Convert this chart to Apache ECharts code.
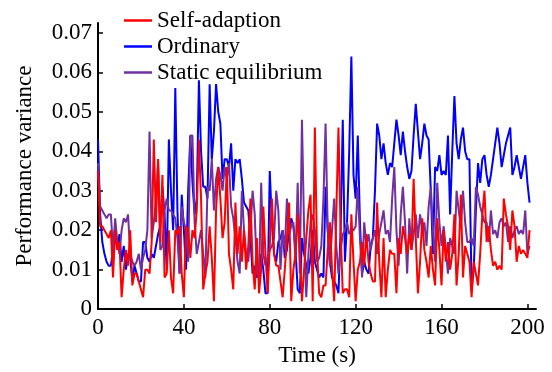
<!DOCTYPE html>
<html>
<head>
<meta charset="utf-8">
<script src="https://cdn.jsdelivr.net/npm/echarts@6/dist/echarts.min.js"></script>
<style>
  html, body { margin: 0; padding: 0; background: #fff; }
  #main { width: 552px; height: 372px; }
</style>
</head>
<body>
<div id="main"></div>
<script>
// time axis, one sample per second
const time = []
for (let i = 0; i <= 201; i++) time.push(i)

// values in units of 0.001
const selfAdaption = [
  35, 21, 21, 20, 19, 18, 20, 8, 20, 15,
  17, 3, 10, 15, 11, 20, 6, 9, 9, 7,
  5, 3, 10, 10, 9, 17, 43, 22, 38, 17,
  34, 8, 9, 20, 8, 4, 20, 19, 21, 9,
  3, 21, 20, 13, 20, 18, 25, 43, 28, 5,
  9, 12, 21, 13, 2, 25, 36, 28, 18, 22,
  36, 14, 10, 5, 27, 14, 21, 12, 20, 10,
  16, 28, 12, 5, 18, 4, 10, 26, 14, 4,
  16, 28, 14, 11, 11, 7, 3, 10, 18, 27,
  2, 10, 14, 24, 15, 2, 10, 18, 25, 29,
  2, 46, 15, 4, 3, 6, 6, 15, 22, 10,
  2, 25, 46, 20, 4, 5, 5, 3, 24, 12,
  2, 10, 12, 17, 11, 19, 12, 9, 7, 7,
  27, 12, 3, 18, 3, 10, 15, 14, 14, 4,
  18, 14, 21, 18, 14, 19, 15, 33, 18, 4,
  12, 23, 15, 12, 8, 16, 10, 6, 23, 15,
  6, 20, 12, 17, 10, 14, 24, 6, 14, 29,
  8, 16, 14, 12, 3, 12, 9, 6, 14, 24,
  30, 17, 21, 15, 11, 12, 10, 11, 10, 28,
  24, 21, 15, 25, 21, 12, 16, 14, 15, 14,
  13, 20
]
const ordinary = [
  43, 24, 17, 14, 12, 11, 11, 15, 21, 15,
  19, 12, 16, 10, 14, 13, 7, 11, 9, 7,
  7, 17, 17, 13, 12, 14, 13, 16, 19, 21,
  31, 24, 10, 43, 30, 20, 56, 25, 9, 29,
  20, 10, 30, 44, 32, 24, 28, 58, 40, 31,
  31, 28, 57, 38, 45, 57, 50, 47, 33, 38,
  38, 36, 42, 30, 38, 37, 38, 33, 27, 26,
  25, 18, 9, 11, 8, 9, 14, 10, 4, 4,
  35, 22, 14, 12, 17, 18, 20, 13, 15, 20,
  23, 21, 15, 5, 4, 18, 14, 11, 9, 13,
  20, 12, 10, 8, 9, 8, 31, 20, 12, 8,
  7, 6, 4, 20, 48, 12, 22, 40, 64, 34,
  28, 44, 22, 9, 12, 10, 9, 16, 18, 30,
  47, 44, 38, 42, 37, 34, 37, 36, 42, 48,
  44, 39, 45, 40, 36, 33, 35, 44, 52, 45,
  38, 42, 47, 44, 43, 30, 14, 36, 35, 39,
  34, 35, 34, 44, 24, 40, 54, 42, 38, 43,
  46, 40, 38, 38, 5, 10, 25, 37, 32, 38,
  39, 34, 31, 34, 38, 42, 46, 42, 36, 39,
  42, 44, 46, 34, 36, 39, 36, 33, 36, 39,
  32, 27
]
const staticEquilibrium = [
  37, 26, 25, 24, 23, 24, 24, 15, 23, 17,
  14, 20, 23, 22, 24, 14, 12, 11, 12, 14,
  10, 13, 15, 20, 45, 18, 22, 28, 37, 15,
  16, 25, 28, 25, 25, 24, 23, 18, 9, 26,
  22, 20, 12, 44, 44, 22, 14, 17, 20, 14,
  8, 31, 30, 38, 25, 33, 36, 34, 30, 36,
  33, 37, 26, 23, 18, 12, 9, 30, 20, 14,
  12, 20, 30, 24, 9, 8, 32, 14, 11, 13,
  15, 16, 18, 30, 25, 10, 20, 15, 28, 19,
  21, 22, 12, 32, 9, 48, 20, 3, 14, 22,
  24, 20, 12, 13, 16, 28, 47, 20, 11, 20,
  28, 16, 9, 15, 19, 20, 22, 19, 20, 20,
  21, 31, 18, 8, 22, 16, 19, 15, 18, 20,
  14, 19, 22, 25, 19, 20, 17, 28, 36, 20,
  11, 24, 31, 22, 9, 23, 15, 19, 24, 18,
  24, 20, 22, 16, 26, 31, 20, 12, 32, 22,
  16, 21, 15, 9, 18, 16, 14, 30, 25, 21,
  30, 22, 17, 17, 18, 16, 31, 29, 26, 24,
  22, 22, 17, 25, 19, 20, 18, 22, 23, 21,
  22, 17, 21, 18, 20, 21, 19, 20, 19, 25,
  14, 16
]
const xTicks = [0, 40, 80, 120, 160, 200]
const yTicks = [0, 0.01, 0.02, 0.03, 0.04, 0.05, 0.06, 0.07]

const font = 'Liberation Serif'
const fontSize = 23

function pairs (vals) {
  return vals.map((v, i) => [time[i], v / 1000])
}

function lineSeries (name, vals, color, z) {
  return {
    name: name,
    type: 'line',
    data: pairs(vals),
    symbol: 'none',
    showSymbol: false,
    z: z,
    lineStyle: { color: color, width: 2 },
    itemStyle: { color: color },
    animation: false
  }
}

const chart = echarts.init(document.getElementById('main'))
const option = {
  backgroundColor: '#fff',
  animation: false,
  grid: { left: 98, right: 16, top: 23, bottom: 57 },
  legend: {
    orient: 'vertical',
    left: 124,
    top: 9,
    padding: 0,
    icon: 'rect',
    itemWidth: 28,
    itemHeight: 2.5,
    itemGap: 3,
    textStyle: { fontFamily: font, fontSize: fontSize, color: '#000', lineHeight: 23 },
    data: ['Self-adaption', 'Ordinary', 'Static equilibrium']
  },
  xAxis: {
    type: 'value',
    min: 0,
    max: 204,
    name: 'Time (s)',
    nameLocation: 'middle',
    nameGap: 32,
    nameTextStyle: { fontFamily: font, fontSize: fontSize, color: '#000' },
    axisLine: { lineStyle: { color: '#000', width: 2 } },
    axisTick: { inside: true, length: 5, customValues: xTicks, lineStyle: { color: '#000', width: 1.5 } },
    axisLabel: { customValues: xTicks, margin: 7, fontFamily: font, fontSize: fontSize, color: '#000' },
    splitLine: { show: false }
  },
  yAxis: {
    type: 'value',
    min: 0,
    max: 0.0725,
    name: 'Performance variance',
    nameLocation: 'middle',
    nameGap: 62,
    nameTextStyle: { fontFamily: font, fontSize: fontSize, color: '#000' },
    axisLine: { show: true, lineStyle: { color: '#000', width: 2 } },
    axisTick: { show: true, inside: true, length: 5, customValues: yTicks, lineStyle: { color: '#000', width: 1.5 } },
    axisLabel: {
      customValues: yTicks,
      margin: 6,
      fontFamily: font,
      fontSize: fontSize,
      color: '#000',
      formatter: v => (v === 0 ? '0' : v.toFixed(2))
    },
    splitLine: { show: false }
  },
  series: [
    lineSeries('Ordinary', ordinary, '#0000ff', 2),
    lineSeries('Static equilibrium', staticEquilibrium, '#7030a0', 3),
    lineSeries('Self-adaption', selfAdaption, '#ff0000', 4)
  ]
}
chart.setOption(option)
</script>
</body>
</html>
